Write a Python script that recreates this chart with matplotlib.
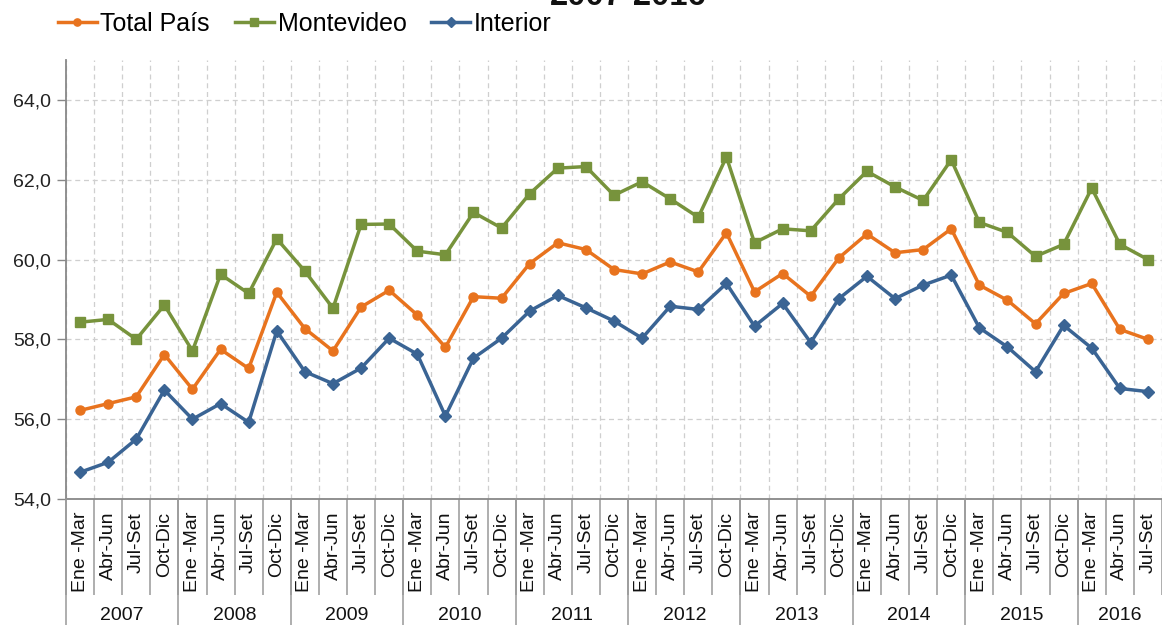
import matplotlib
matplotlib.use("Agg")
import matplotlib.pyplot as plt
import matplotlib.transforms as mtransforms
from matplotlib.lines import Line2D
import numpy as np

plt.rcParams['font.family'] = ['Liberation Sans', 'DejaVu Sans']

# ---- data ----
years = ['2007', '2008', '2009', '2010', '2011', '2012', '2013', '2014', '2015', '2016']
quarters = ['Ene -Mar', 'Abr-Jun', 'Jul-Set', 'Oct-Dic']
title = '2007-2016'

total_pais = [56.22, 56.39, 56.56, 57.62,
              56.75, 57.75, 57.27, 59.18,
              58.27, 57.71, 58.81, 59.23,
              58.61, 57.80, 59.07, 59.03,
              59.90, 60.42, 60.25, 59.75,
              59.64, 59.94, 59.69, 60.67,
              59.19, 59.65, 59.08, 60.04,
              60.64, 60.17, 60.25, 60.77,
              59.36, 58.98, 58.39, 59.15,
              59.40, 58.25, 58.00]
montevideo = [58.43, 58.50, 58.00, 58.86,
              57.71, 59.63, 59.15, 60.52,
              59.71, 58.78, 60.88, 60.89,
              60.21, 60.12, 61.18, 60.79,
              61.65, 62.29, 62.33, 61.61,
              61.95, 61.52, 61.06, 62.57,
              60.42, 60.77, 60.72, 61.52,
              62.21, 61.82, 61.48, 62.50,
              60.93, 60.68, 60.08, 60.38,
              61.79, 60.38, 60.00]
interior = [54.67, 54.92, 55.50, 56.73,
            56.00, 56.39, 55.92, 58.21,
            57.19, 56.89, 57.28, 58.03,
            57.63, 56.08, 57.53, 58.03,
            58.71, 59.10, 58.79, 58.46,
            58.03, 58.83, 58.75, 59.40,
            58.33, 58.90, 57.92, 59.02,
            59.58, 59.02, 59.36, 59.61,
            58.29, 57.81, 57.19, 58.35,
            57.78, 56.77, 56.69]

series_names = ['Total País', 'Montevideo', 'Interior']
colors = ['#E8731E', '#77933C', '#3A6494']
markers = ['o', 's', 'D']
msizes = [6.5, 7, 6]

# ---- figure ----
W, H = 1162, 625
fig = plt.figure(figsize=(W / 100, H / 100), dpi=100)
ax_left, ax_bottom, ax_top = 66, 126, 60
ax = fig.add_axes([ax_left / W, ax_bottom / H, 1 - ax_left / W, (H - ax_bottom - ax_top) / H])

n = len(total_pais)
x = np.arange(n)
year_idx = [i // 4 for i in range(n)]
q_labels = [quarters[i % 4] for i in range(n)]

for vals, name, c, m, ms in zip([total_pais, montevideo, interior], series_names, colors, markers, msizes):
    ax.plot(x, vals, color=c, lw=2.5, marker=m, ms=ms, mfc=c, mec=c, label=name, zorder=3)

px_per_cat = 28.4
ax.set_xlim(-0.5, -0.5 + (W - ax_left) / px_per_cat)
ax.set_ylim(54, 65)

# y axis
ax.set_yticks(np.arange(54, 65, 2))
ax.set_yticklabels([f'{v:.1f}'.replace('.', ',') for v in np.arange(54, 65, 2)])
ax.tick_params(axis='y', direction='out', length=6.5, width=1, color='#888888',
               labelsize=14, pad=4.3, labelcolor='#222222')
ax.yaxis.grid(True, color='#CFCFCF', linestyle=(0, (4, 3)), lw=0.9)

# x axis: boundary ticks act as separators
bounds = np.arange(-0.5, n + 0.5, 1)
ax.set_xticks(bounds)
ax.set_xticklabels([''] * len(bounds))
ax.tick_params(axis='x', direction='out', length=96 * 0.72, width=1.1, color='#999999')
ax.xaxis.grid(True, color='#CFCFCF', linestyle=(0, (4, 3)), lw=0.9)

for s in ['top', 'right']:
    ax.spines[s].set_visible(False)
for s in ['left', 'bottom']:
    ax.spines[s].set_color('#888888')
    ax.spines[s].set_linewidth(1.3)

trans = mtransforms.blended_transform_factory(ax.transData, fig.transFigure)

# quarter labels
for i in range(n):
    ax.text(x[i], (H - 512) / H, q_labels[i], transform=trans, rotation=90,
            ha='center', va='top', fontsize=14, color='#111111', clip_on=False)

# year separators and labels
for k, yr in enumerate(years):
    idx = [i for i in range(n) if year_idx[i] == k]
    b = idx[0] - 0.5
    fig.add_artist(Line2D([b, b], [0, ax_bottom / H], transform=trans,
                          color='#999999', lw=1.1, clip_on=False))
    cx = np.mean(idx)
    ax.text(cx, 1 / H, yr, transform=trans, ha='center', va='bottom',
            fontsize=14, color='#111111', clip_on=False)

# title (cropped at top, as in the reference)
fig.text(628 / W, 1 - 5 / H, title, ha='center', va='baseline',
         fontsize=23.6, fontweight='bold', color='#111111')

# legend
handles, labels = ax.get_legend_handles_labels()
fig.legend(handles, labels, loc='upper left', bbox_to_anchor=(58 / W, 1 - 12 / H),
           ncol=3, frameon=False, fontsize=18, handlelength=1.55, handletextpad=0.15,
           columnspacing=1.0, borderpad=0, borderaxespad=0, markerscale=0.8)

fig.savefig('out.png', dpi=100)
